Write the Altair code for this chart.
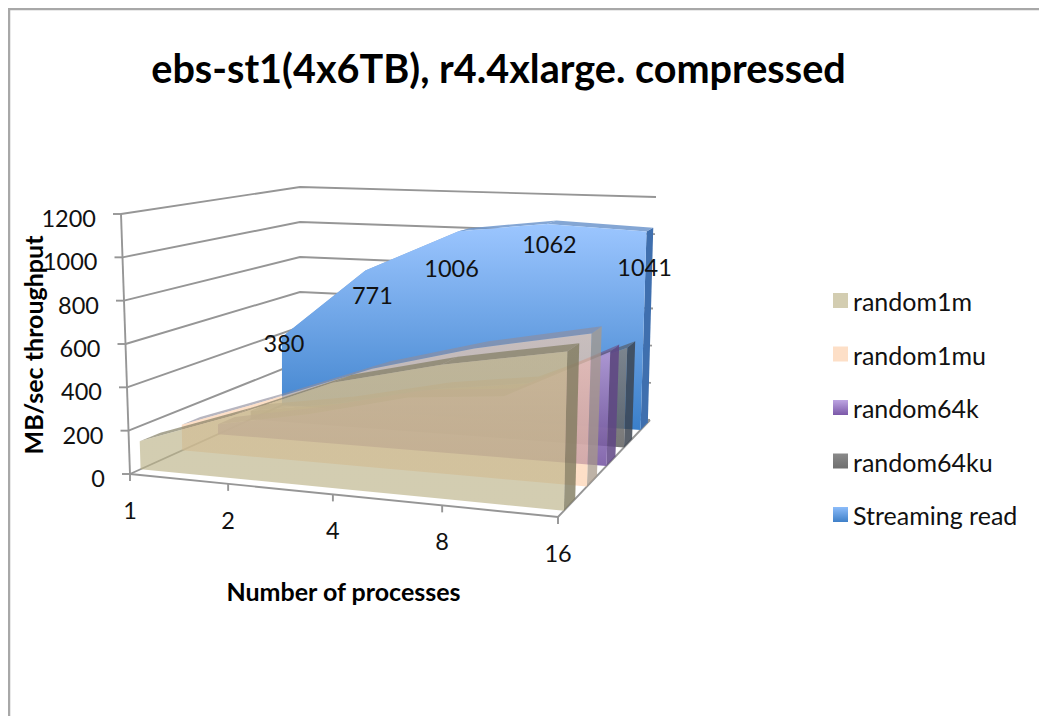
import numpy as np
import pandas as pd
import altair as alt

categories = ["1", "2", "4", "8", "16"]
series_names = ["random1m", "random1mu", "random64k", "random64ku", "Streaming read"]
random1m = [130, 290, 480, 600, 700]
random1mu = [125, 290, 470, 600, 705]
random64k = [50, 140, 260, 300, 550]
random64ku = [45, 120, 230, 290, 500]
streaming = [380, 771, 1006, 1062, 1041]
y_ticks = [0, 200, 400, 600, 800, 1000, 1200]

W, H = 1031, 708
X0, Y0 = 8, 8


# camera calibration: floor and ceiling planes of the 3-D box on the page
def homography(corners):
    (x0, y0), (x1, y1), (x2, y2), (x3, y3) = corners
    dx1, dx2, sx = x1 - x2, x3 - x2, x0 - x1 + x2 - x3
    dy1, dy2, sy = y1 - y2, y3 - y2, y0 - y1 + y2 - y3
    det = dx1 * dy2 - dx2 * dy1
    g = (sx * dy2 - dx2 * sy) / det
    h = (dx1 * sy - sx * dy1) / det
    return (x1 - x0 + g * x1, x3 - x0 + h * x3, x0, y1 - y0 + g * y1, y3 - y0 + h * y3, y0, g, h)


FLOOR = homography([(130, 474), (558, 517), (650, 420), (300, 397)])
CEIL = homography([(121, 214), (563, 241), (656, 197), (300, 187)])


def plane(H_, u, d):
    a, b, c, e, f, k, g, h = H_
    q = g * u + h * d + 1
    return (a * u + b * d + c) / q, (e * u + f * d + k) / q


def proj(u, d, v):
    w = v / 1200
    fx, fy = plane(FLOOR, u, d)
    cx, cy = plane(CEIL, u, d)
    return fx + (cx - fx) * w, fy + (cy - fy) * w


xs = alt.Scale(domain=[X0, X0 + W], nice=False, zero=False)
ys = alt.Scale(domain=[Y0 + H, Y0], nice=False, zero=False)
XE = alt.X("x:Q", scale=xs, axis=None)
YE = alt.Y("y:Q", scale=ys, axis=None)


def frame(polys):
    recs = []
    for pid, pts in enumerate(polys):
        for i, (x, y) in enumerate(pts):
            recs.append({"x": x, "y": y, "p": pid, "i": i})
    return pd.DataFrame(recs)


def poly(polys, fill, opacity=1.0):
    return alt.Chart(frame(polys)).mark_line(fill=fill, opacity=opacity, strokeWidth=0, stroke="transparent").encode(
        x=XE, y=YE, detail="p:N", order="i:Q")


def lines(segs, color="#969696", sw=1.9):
    return alt.Chart(frame(segs)).mark_line(color=color, strokeWidth=sw).encode(
        x=XE, y=YE, detail="p:N", order="i:Q")


def grad(top, bottom):
    return alt.Gradient(gradient="linear", x1=0, y1=0, x2=0, y2=1,
                        stops=[alt.GradientStop(color=top, offset=0), alt.GradientStop(color=bottom, offset=1)])


def texts(rows_, **mk):
    return alt.Chart(pd.DataFrame(rows_)).mark_text(**mk).encode(x=XE, y=YE, text="t:N")


FONT = "Lato"
layers = []

# frame of the slide
layers.append(lines([[(X0 + 1, Y0 + H), (X0 + 1, Y0 + 1), (X0 + W, Y0 + 1)]], "#a8a8a8", 2.5))

# walls
grid = [[proj(0, 0, v), proj(0, 1, v), proj(1, 1, v)] for v in y_ticks]
layers.append(lines(grid))
axis = [[proj(0, 0, 0), proj(0, 0, 1200)]]
axis += [[(proj(0, 0, v)[0] - 8, proj(0, 0, v)[1]), proj(0, 0, v)] for v in y_ticks]
layers.append(lines(axis))
cat_u = [0, 0.258, 0.513, 0.759, 1]
cat_u_back = [0, 0.274, 0.554, 0.777, 1]


def cat_at(i, d):
    return cat_u[i] + (cat_u_back[i] - cat_u[i]) * d


floor = [[proj(0, 0, 0), proj(1, 0, 0), proj(1, 1, 0)]]
floor += [[proj(u, 0, 0), (proj(u, 0, 0)[0], proj(u, 0, 0)[1] + 7)] for u in cat_u]
layers.append(lines(floor))

series_values = [random1m, random1mu, random64k, random64ku, streaming]
fronts = [0.05, 0.26, 0.46, 0.66, 0.87]
thick = 0.1
front_fill = [grad("#bbb287", "#bbb287"), grad("#fccea9", "#fccea9"), grad("#b49ade", "#6f4e9e"),
              grad("#808080", "#606060"), grad("#9cc6ff", "#3a7fca")]
side_fill = ["#7f7a5e", "#a89a8a", "#5f4585", "#3c4450", "#3f6fae"]
top_fill = ["#7f7a5e", "#8e8d9c", "#6f5a8c", "#56606c", "#6f97cd"]
alpha = [0.65, 0.65, 0.85, 0.85, 1.0]
side_alpha = [0.8, 0.75, 0.85, 0.85, 1.0]

for k in range(4, -1, -1):
    d, vals = fronts[k], series_values[k]
    d2 = d + thick
    side = [proj(1, d, 0), proj(1, d2, 0), proj(1, d2, vals[-1]), proj(1, d, vals[-1])]
    ribbons = []
    for a in range(4):
        ua, ub = cat_at(a, d), cat_at(a + 1, d)
        ua2, ub2 = cat_at(a, d2), cat_at(a + 1, d2)
        ribbons.append([proj(ua, d, vals[a]), proj(ub, d, vals[a + 1]), proj(ub2, d2, vals[a + 1]), proj(ua2, d2, vals[a])])
    us = [cat_at(i, d) for i in range(5)]
    face = [proj(u, d, 0) for u in us]
    face += [proj(u, d, v) for u, v in reversed(list(zip(us, vals)))]
    layers.append(poly([side], side_fill[k], side_alpha[k]))
    layers.append(poly(ribbons, top_fill[k], side_alpha[k] * 0.85))
    layers.append(poly([face], front_fill[k], alpha[k]))

# data labels of the streaming series
label_shift = [(2, 8), (7, 26), (-7, 39), (3, 22), (-2, 38)]
lab = []
for i, (v, (dx, dy)) in enumerate(zip(streaming, label_shift)):
    px, py = proj(cat_at(i, fronts[4]), fronts[4], v)
    lab.append({"x": px + dx, "y": py + dy, "t": str(v)})
layers.append(texts(lab, font=FONT, fontSize=23.5, color="#111111", align="center", baseline="middle"))

# tick labels
ylab = []
for v in y_ticks:
    px, py = proj(0, 0, v)
    ylab.append({"x": px - 25, "y": py + 6, "t": str(v)})
layers.append(texts(ylab, font=FONT, fontSize=23.5, color="#111111", align="right", baseline="middle"))
xlab = []
for u, c in zip(cat_u, categories):
    px, py = proj(u, 0, 0)
    xlab.append({"x": px, "y": py + 38, "t": c})
layers.append(texts(xlab, font=FONT, fontSize=23.5, color="#111111", align="center", baseline="middle"))

# titles
layers.append(texts([{"x": 498.5, "y": 71, "t": "ebs-st1(4x6TB), r4.4xlarge. compressed"}],
                    font=FONT, fontSize=39.6, fontWeight="bold", color="#000000", align="center", baseline="middle"))
layers.append(texts([{"x": 343.5, "y": 593, "t": "Number of processes"}],
                    font=FONT, fontSize=25, fontWeight="bold", color="#000000", align="center", baseline="middle"))
layers.append(texts([{"x": 35, "y": 345, "t": "MB/sec throughput"}],
                    font=FONT, fontSize=25, fontWeight="bold", color="#000000", align="center", baseline="middle", angle=270))

# legend
leg_x, leg_y, leg_step, sw = 833, 300.5, 53.5, 15
leg_fill = [grad("#d3cdb1", "#d3cdb1"), grad("#fddfc7", "#fddfc7"), grad("#bda5e2", "#7b58a8"),
            grad("#8a8a8a", "#6f6f6f"), grad("#8cbcfa", "#3f80c8")]
for i, n in enumerate(series_names):
    cy = leg_y + i * leg_step
    layers.append(poly([[(leg_x, cy - sw / 2), (leg_x + sw, cy - sw / 2), (leg_x + sw, cy + sw / 2), (leg_x, cy + sw / 2)]], leg_fill[i]))
    layers.append(texts([{"x": leg_x + 20, "y": cy + 2.5, "t": n}], font=FONT, fontSize=25, color="#111111", align="left", baseline="middle"))

chart = alt.layer(*layers).properties(width=W, height=H, padding=0, autosize=alt.AutoSizeParams(type="none")).configure_view(stroke=None)
chart.save("out.html", embed_options={"renderer": "svg", "actions": False})
